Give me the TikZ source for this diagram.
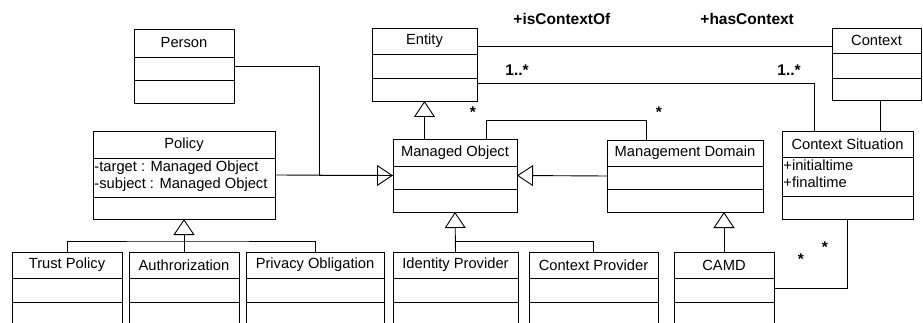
\documentclass[tikz,border=0pt]{standalone}
\usepackage{fontspec}
\setmainfont{Liberation Sans}
\usetikzlibrary{arrows.meta}

\tikzset{
  cls/.style={draw, rectangle, inner sep=0pt, outer sep=0pt, anchor=north west},
  clstitle/.style={inner sep=0pt, font=\fontsize{14.7}{17}\selectfont},
  attrs/.style={anchor=north west, align=left, inner xsep=1pt, inner ysep=2pt, font=\fontsize{14.7}{17}\selectfont},
  lbl/.style={anchor=base west, inner sep=0pt, font=\bfseries\fontsize{15.5}{18}\selectfont},
  mult/.style={anchor=base, inner sep=0pt, font=\bfseries\fontsize{15.5}{18}\selectfont},
  gen/.style={-{Triangle[open, length=16pt, width=21pt]}},
}

% class box: name, left, top, right, header bottom, attribute bottom, bottom, title, attributes
\newcommand{\umlclass}[9]{%
  \node[cls, minimum width=#4-#2, minimum height=#7-#3] (#1) at (#2,#3) {};
  \draw (#2,#5) -- (#4,#5) (#2,#6) -- (#4,#6);
  \node[clstitle] (#1-name) at ({(#2+#4)/2},{(#3+#5)/2}) {#8};
  \node[attrs] (#1-attr) at (#2,#5) {#9};
}

\begin{document}
\begin{tikzpicture}[x=1pt, y=-1pt, line width=0.9pt]
      \useasboundingbox (0,0) rectangle (923,323);
      \clip (0,0) rectangle (923,323);

      \umlclass{person}{134}{29}{234}{57}{80}{103}{Person}{}
      \umlclass{policy}{93}{131}{275}{158}{197}{219}{Policy}{-target : Managed Object\\-subject : Managed Object}
      \umlclass{entity}{372}{28}{477}{54}{78}{101}{Entity}{}
      \umlclass{mo}{393}{139}{517}{166}{189}{212}{Managed Object}{}
      \umlclass{md}{607}{140}{763}{166}{189}{212}{Management Domain}{}
      \umlclass{context}{832}{28}{921}{53}{78}{100}{Context}{}
      \umlclass{cs}{782}{131}{913}{157}{196}{219}{Context Situation}{+initialtime\\+finaltime}
      \umlclass{tp}{12}{252}{122}{278}{302}{324}{Trust Policy}{}
      \umlclass{auth}{129}{252}{239}{278}{302}{324}{Authrorization}{}
      \umlclass{po}{246}{252}{384}{278}{302}{324}{Privacy Obligation}{}
      \umlclass{idp}{393}{252}{518}{278}{302}{324}{Identity Provider}{}
      \umlclass{cp}{529}{252}{658}{278}{302}{324}{Context Provider}{}
      \umlclass{camd}{674}{252}{774}{278}{302}{324}{CAMD}{}

      \draw[gen] (person.east) -- ++(85,0) |- (mo.west);
      \draw (policy.east) -- (mo.west);
      \draw[gen] (mo.north -| entity.south) -- (entity.south);
      \draw[gen] (md.west) -- (mo.east);
      \draw ([xshift=31pt]mo.north) -- ++(0,-19) -| ([xshift=-39pt]md.north);
      \draw ([yshift=18pt]entity.east) -- ([yshift=18pt]entity.east -| context.west);
      \draw ([yshift=-18.5pt]entity.east) -| ([xshift=-33.5pt]cs.north);
      \draw ([xshift=4pt]context.south) -- ([xshift=4pt]context.south |- cs.north);
      \draw (cs.south) |- (camd.east);

      \draw[gen] (auth.north) -- (policy.south);
      \draw (tp.north) |- ([yshift=11pt]auth.north) -| (po.north);
      \draw[gen] (idp.north) -- (mo.south);
      \draw ([yshift=11pt]idp.north) -| (cp.north);
      \draw[gen] (camd.north) -- (camd.north |- md.south);

      \node[lbl] (isctx) at (513,25) {+isContextOf};
      \node[lbl] (hasctx) at (700,25) {+hasContext};
      \node[lbl] (m1) at (505,76) {1..*};
      \node[lbl] (m2) at (777,76) {1..*};
      \node[mult] (s1) at (473,118) {*};
      \node[mult] (s2) at (659,118) {*};
      \node[mult] (s3) at (825,252) {*};
      \node[mult] (s4) at (801,264) {*};
\end{tikzpicture}
\end{document}
